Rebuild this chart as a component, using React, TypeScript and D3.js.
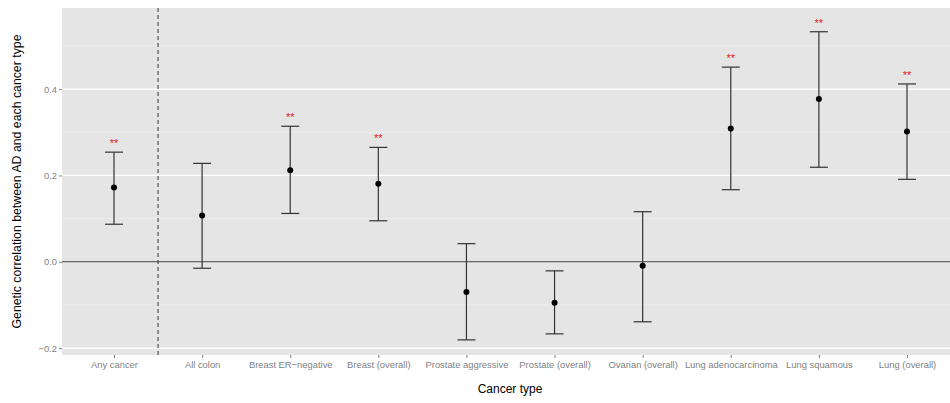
import { useRef, useEffect } from 'react'
import * as d3 from 'd3'

const categories = [
  'Any cancer', 'All colon', 'Breast ER\u2212negative', 'Breast (overall)', 'Prostate aggressive',
  'Prostate (overall)', 'Ovarian (overall)', 'Lung adenocarcinoma', 'Lung squamous', 'Lung (overall)',
]
const estimates = [0.172, 0.107, 0.212, 0.181, -0.07, -0.095, -0.009, 0.309, 0.377, 0.302]
const upper = [0.254, 0.228, 0.314, 0.265, 0.042, -0.021, 0.116, 0.451, 0.533, 0.412]
const lower = [0.087, -0.015, 0.112, 0.095, -0.181, -0.167, -0.139, 0.167, 0.219, 0.191]
const significant = [true, false, true, true, false, false, false, true, true, true]
const yTicks = [-0.2, 0, 0.2, 0.4]
const yMinor = [-0.1, 0.1, 0.3, 0.5]

export default function App() {
  const svgRef = useRef<SVGSVGElement>(null)

  useEffect(() => {
    const w = 950
    const h = 403
    const m = { top: 8, left: 62, bottom: 355 }
    const svg = d3.select(svgRef.current)
    svg.selectAll('*').remove()

    // scales
    const x = d3.scalePoint<string>()
      .domain(categories)
      .range([114, 907])
    const step = x.step()
    const panelRight = 907 + step * 0.6
    const y = d3.scaleLinear()
      .domain([-0.216, 0.588])
      .range([m.bottom, m.top])

    const font = 'Liberation Sans, Arial, Helvetica, sans-serif'

    // panel
    svg.append('rect')
      .attr('x', m.left).attr('y', m.top)
      .attr('width', panelRight - m.left).attr('height', m.bottom - m.top)
      .attr('fill', '#e5e5e5')

    svg.selectAll('.minor')
      .data(yMinor)
      .join('line')
      .attr('x1', m.left).attr('x2', panelRight)
      .attr('y1', d => y(d)).attr('y2', d => y(d))
      .attr('stroke', '#f2f2f2').attr('stroke-width', 0.6)

    svg.selectAll('.major')
      .data(yTicks)
      .join('line')
      .attr('x1', m.left).attr('x2', panelRight)
      .attr('y1', d => y(d)).attr('y2', d => y(d))
      .attr('stroke', '#ffffff').attr('stroke-width', 1.2)

    // axes
    const yAxis = d3.axisLeft(y)
      .tickValues(yTicks)
      .tickSize(3)
      .tickPadding(2)
      .tickFormat(d3.format('.1f'))
    const gy = svg.append('g')
      .attr('transform', `translate(${m.left}, 0)`)
      .call(yAxis)
    gy.select('.domain').remove()
    gy.selectAll('line').attr('stroke', '#7f7f7f')
    gy.selectAll('text').attr('fill', '#7f7f7f').attr('font-size', 9.4).attr('font-family', font)

    const xAxis = d3.axisBottom(x).tickSize(3).tickPadding(3)
    const gx = svg.append('g')
      .attr('transform', `translate(0, ${m.bottom})`)
      .call(xAxis)
    gx.select('.domain').remove()
    gx.selectAll('line').attr('stroke', '#7f7f7f')
    gx.selectAll('text').attr('fill', '#7f7f7f').attr('font-size', 9.4).attr('font-family', font)

    // reference lines
    svg.append('line')
      .attr('x1', m.left).attr('x2', panelRight)
      .attr('y1', y(0)).attr('y2', y(0))
      .attr('stroke', '#333').attr('stroke-width', 1)

    const sep = (x(categories[0])! + x(categories[1])!) / 2
    svg.append('line')
      .attr('x1', sep).attr('x2', sep)
      .attr('y1', m.top).attr('y2', m.bottom)
      .attr('stroke', '#333').attr('stroke-width', 1)
      .attr('stroke-dasharray', '4,3')

    // error bars
    const idx = d3.range(categories.length)
    const cap = 9
    const bars = svg.append('g').attr('stroke', '#333').attr('stroke-width', 1.2)
    bars.selectAll('.v')
      .data(idx)
      .join('line')
      .attr('x1', i => x(categories[i])!).attr('x2', i => x(categories[i])!)
      .attr('y1', i => y(upper[i])).attr('y2', i => y(lower[i]))
    bars.selectAll('.top')
      .data(idx)
      .join('line')
      .attr('x1', i => x(categories[i])! - cap).attr('x2', i => x(categories[i])! + cap)
      .attr('y1', i => y(upper[i])).attr('y2', i => y(upper[i]))
    bars.selectAll('.bot')
      .data(idx)
      .join('line')
      .attr('x1', i => x(categories[i])! - cap).attr('x2', i => x(categories[i])! + cap)
      .attr('y1', i => y(lower[i])).attr('y2', i => y(lower[i]))

    svg.selectAll('.pt')
      .data(idx)
      .join('circle')
      .attr('cx', i => x(categories[i])!)
      .attr('cy', i => y(estimates[i]))
      .attr('r', 3)
      .attr('fill', '#000')

    svg.selectAll('.star')
      .data(idx.filter(i => significant[i]))
      .join('text')
      .attr('x', i => x(categories[i])!)
      .attr('y', i => y(upper[i]) - 5)
      .attr('text-anchor', 'middle')
      .attr('fill', '#e0201b')
      .attr('font-size', 11)
      .attr('font-family', font)
      .text('**')

    // titles
    svg.append('text')
      .attr('x', 510)
      .attr('y', 393)
      .attr('text-anchor', 'middle')
      .attr('font-size', 12)
      .attr('font-family', font)
      .attr('fill', '#000')
      .text('Cancer type')

    svg.append('text')
      .attr('transform', `translate(21, ${(m.top + m.bottom) / 2}) rotate(-90)`)
      .attr('text-anchor', 'middle')
      .attr('font-size', 12.3)
      .attr('font-family', font)
      .attr('fill', '#000')
      .text('Genetic correlation between AD and each cancer type')

    svg.attr('width', w).attr('height', h)
  }, [])

  return (
    <svg ref={svgRef} style={{ position: 'absolute', left: 0, top: 0, background: '#fff' }}></svg>
  )
}
